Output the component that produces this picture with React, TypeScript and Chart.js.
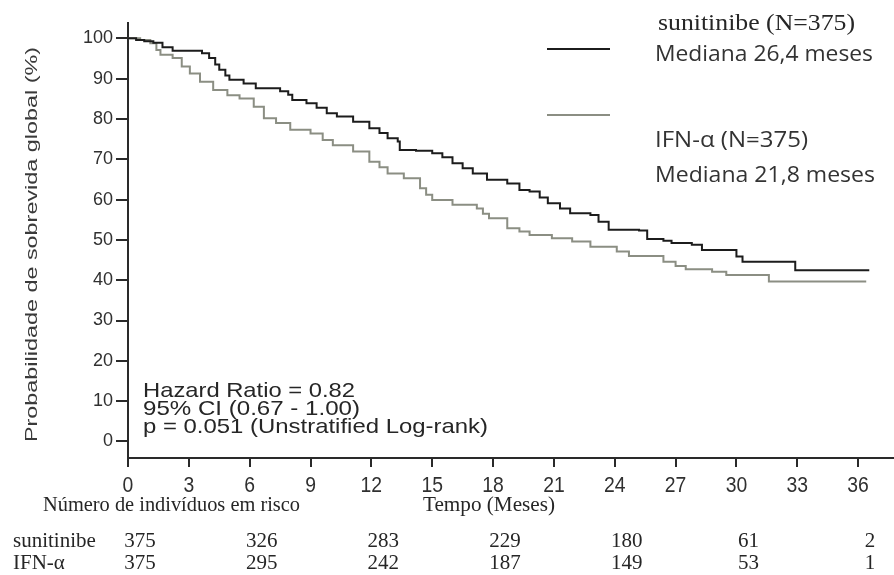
import { useEffect, useRef } from 'react';
import { Chart, registerables } from 'chart.js';

Chart.register(...registerables);

// ---- data ----
const suniTimes = [0, 0.4, 0.8, 1.25, 1.7, 2.2, 3.65, 4.0, 4.3, 4.5, 4.8, 5.0, 5.7, 6.3, 7.5, 7.9, 8.1, 8.8, 9.3, 9.8, 10.3, 11.1, 11.9, 12.4, 12.8, 13.3, 13.4, 14.2, 15.0, 15.5, 16.0, 16.5, 17.0, 17.7, 18.7, 19.3, 19.8, 20.3, 20.7, 21.3, 21.8, 22.8, 23.2, 23.7, 25.2, 25.6, 26.4, 26.8, 27.8, 28.3, 30.0, 30.3, 32.9, 36.55];
const suniSurv = [100, 99.6, 99.3, 98.9, 97.8, 96.9, 96.3, 95.1, 93.5, 92.2, 90.8, 89.7, 88.8, 87.6, 86.9, 86.0, 84.7, 83.9, 82.8, 81.4, 80.6, 79.3, 77.7, 76.5, 75.2, 74.4, 72.3, 72.1, 71.5, 70.5, 69.0, 67.8, 66.5, 64.9, 64.0, 62.4, 62.0, 60.5, 59.1, 57.8, 56.6, 56.2, 54.5, 52.5, 52.3, 50.2, 49.8, 49.2, 48.8, 47.5, 45.9, 44.6, 42.5, 42.5];
const ifnTimes = [0, 0.6, 1.1, 1.4, 1.6, 2.2, 2.65, 3.05, 3.55, 4.2, 4.9, 5.5, 6.2, 6.7, 7.3, 8.0, 9.0, 9.6, 10.1, 11.1, 11.9, 12.4, 12.8, 13.6, 14.4, 14.7, 15.0, 16.0, 17.2, 17.5, 17.8, 18.7, 19.3, 19.8, 20.9, 21.9, 22.8, 24.1, 24.7, 26.4, 27.0, 27.5, 28.8, 29.5, 31.6, 36.4];
const ifnSurv = [100, 99.6, 98.8, 97.1, 95.9, 95.1, 93.0, 91.3, 89.2, 87.2, 85.9, 85.1, 83.0, 80.2, 79.0, 77.3, 76.4, 74.8, 73.5, 71.9, 69.4, 68.0, 66.5, 65.3, 62.8, 61.2, 59.9, 58.7, 57.8, 56.5, 55.4, 52.9, 52.1, 51.2, 50.4, 49.6, 48.3, 47.1, 46.0, 44.6, 43.5, 42.7, 42.1, 41.3, 39.7, 39.7];

const riskTimes = [0, 6, 12, 18, 24, 30, 36];
const riskSuni = [375, 326, 283, 229, 180, 61, 2];
const riskIfn = [375, 295, 242, 187, 149, 53, 1];

const seriesNames = ['sunitinibe (N=375)', 'IFN-α (N=375)'];
const medianLabels = ['Mediana 26,4 meses', 'Mediana 21,8 meses'];
const statsLines = ['Hazard Ratio = 0.82', '95% CI (0.67 - 1.00)', 'p = 0.051 (Unstratified Log-rank)'];
const yTitle = 'Probabilidade de sobrevida global (%)';
const xTitle = 'Tempo (Meses)';
const riskTitle = 'Número de indivíduos em risco';
const riskRowLabels = ['sunitinibe', 'IFN-α'];

// ---- styles ----
const SANS = '"Liberation Sans", Arial, sans-serif';
const SERIF = '"Liberation Serif", "Times New Roman", serif';
const LEGSANS = '"Open Sans", "Noto Sans", sans-serif';
const BLACK = '#1c1c1c';
const GREY = '#8b8e83';
const TEXT = '#262626';

function fitText(ctx: CanvasRenderingContext2D, text: string, x: number, y: number, font: string, width: number, color: string) {
  ctx.save();
  ctx.font = font;
  ctx.fillStyle = color;
  ctx.textAlign = 'left';
  ctx.textBaseline = 'alphabetic';
  const w = ctx.measureText(text).width;
  ctx.translate(x, y);
  ctx.scale(width / w, 1);
  ctx.fillText(text, 0, 0);
  ctx.restore();
}

const decorPlugin = {
  id: 'decor',
  afterDraw(chart: any) {
    const ctx: CanvasRenderingContext2D = chart.ctx;
    const xs = chart.scales.x;

    // x tick labels (tall, narrow)
    ctx.save();
    ctx.font = `22px ${SANS}`;
    ctx.fillStyle = '#303030';
    ctx.textAlign = 'center';
    ctx.textBaseline = 'alphabetic';
    xs.ticks.forEach((t: any) => {
      const px = xs.getPixelForValue(t.value);
      ctx.save();
      ctx.translate(px, 492);
      ctx.scale(0.88, 1);
      ctx.fillText(String(t.value), 0, 0);
      ctx.restore();
    });
    ctx.restore();

    // y title (rotated)
    ctx.save();
    ctx.font = `16px ${SANS}`;
    ctx.fillStyle = '#3a3a3a';
    ctx.textAlign = 'center';
    ctx.textBaseline = 'middle';
    const tw = ctx.measureText(yTitle).width;
    ctx.translate(33, 244.5);
    ctx.rotate(-Math.PI / 2);
    ctx.scale(395 / tw, 1);
    ctx.fillText(yTitle, 0, 0);
    ctx.restore();

    // legend
    ctx.save();
    ctx.lineWidth = 2;
    ctx.strokeStyle = BLACK;
    ctx.beginPath(); ctx.moveTo(547, 49); ctx.lineTo(610, 49); ctx.stroke();
    ctx.strokeStyle = GREY;
    ctx.beginPath(); ctx.moveTo(547, 115); ctx.lineTo(610, 115); ctx.stroke();
    ctx.restore();
    fitText(ctx, seriesNames[0], 658, 29.5, `24px ${SERIF}`, 197, TEXT);
    fitText(ctx, medianLabels[0], 655, 61, `22px ${LEGSANS}`, 218, '#333');
    fitText(ctx, seriesNames[1], 655, 146.5, `22px ${LEGSANS}`, 153, '#333');
    fitText(ctx, medianLabels[1], 655, 182, `22px ${LEGSANS}`, 220, '#333');

    // statistics
    fitText(ctx, statsLines[0], 143, 397, `21px ${SANS}`, 212, TEXT);
    fitText(ctx, statsLines[1], 143, 415, `21px ${SANS}`, 217, TEXT);
    fitText(ctx, statsLines[2], 143, 433, `21px ${SANS}`, 345, TEXT);

    // titles under the axis
    fitText(ctx, riskTitle, 43, 511, `21px ${SERIF}`, 257, TEXT);
    fitText(ctx, xTitle, 423, 511, `21px ${SERIF}`, 132, TEXT);

    // risk table
    ctx.save();
    ctx.font = `21px ${SERIF}`;
    ctx.fillStyle = TEXT;
    ctx.textBaseline = 'alphabetic';
    ctx.textAlign = 'left';
    ctx.fillText(riskRowLabels[0], 13, 547);
    ctx.fillText(riskRowLabels[1], 13, 569);
    ctx.textAlign = 'center';
    riskTimes.forEach((t, i) => {
      const px = xs.getPixelForValue(t) + 12;
      ctx.fillText(String(riskSuni[i]), px, 547);
      ctx.fillText(String(riskIfn[i]), px, 569);
    });
    ctx.restore();
  },
};

export default function App() {
  const ref = useRef<HTMLCanvasElement | null>(null);

  useEffect(() => {
    if (!ref.current) return;
    const chart = new Chart(ref.current, {
      type: 'scatter',
      data: {
        datasets: [
          {
            label: seriesNames[0],
            data: suniTimes.map((t, i) => ({ x: t, y: suniSurv[i] })),
            showLine: true,
            stepped: 'before',
            borderColor: BLACK,
            borderWidth: 2,
            pointRadius: 0,
            fill: false,
          },
          {
            label: seriesNames[1],
            data: ifnTimes.map((t, i) => ({ x: t, y: ifnSurv[i] })),
            showLine: true,
            stepped: 'before',
            borderColor: GREY,
            borderWidth: 2,
            pointRadius: 0,
            fill: false,
          },
        ],
      },
      options: {
        responsive: false,
        animation: false,
        devicePixelRatio: 1,
        layout: { padding: { top: 23, left: 0, right: 1, bottom: 97 } },
        plugins: { legend: { display: false }, tooltip: { enabled: false }, title: { display: false } },
        scales: {
          x: {
            type: 'linear',
            min: 0,
            max: 37.72,
            afterFit: (s: any) => { s.height = 20; },
            border: { display: true, color: '#2a2a2a', width: 2 },
            grid: { drawOnChartArea: false, drawTicks: true, tickLength: 9, color: '#2a2a2a', lineWidth: 2 },
            ticks: { stepSize: 3, includeBounds: false, display: false, autoSkip: false, maxTicksLimit: 30 },
          },
          y: {
            type: 'linear',
            min: -4.1,
            max: 103.8,
            afterFit: (s: any) => { s.width = 128; },
            border: { display: true, color: '#2a2a2a', width: 2 },
            grid: { drawOnChartArea: false, drawTicks: true, tickLength: 12, color: '#2a2a2a', lineWidth: 2 },
            ticks: {
              stepSize: 10,
              includeBounds: false,
              autoSkip: false,
              maxTicksLimit: 30,
              padding: 3,
              color: '#303030',
              font: { family: SANS, size: 18 },
            },
          },
        },
      },
      plugins: [decorPlugin],
    } as any);
    return () => chart.destroy();
  }, []);

  return (
    <div style={{ position: 'absolute', left: 0, top: 0, width: 894, height: 575, background: '#fff' }}>
      <canvas ref={ref} width={894} height={575} style={{ display: 'block', width: 894, height: 575 }} />
    </div>
  );
}
